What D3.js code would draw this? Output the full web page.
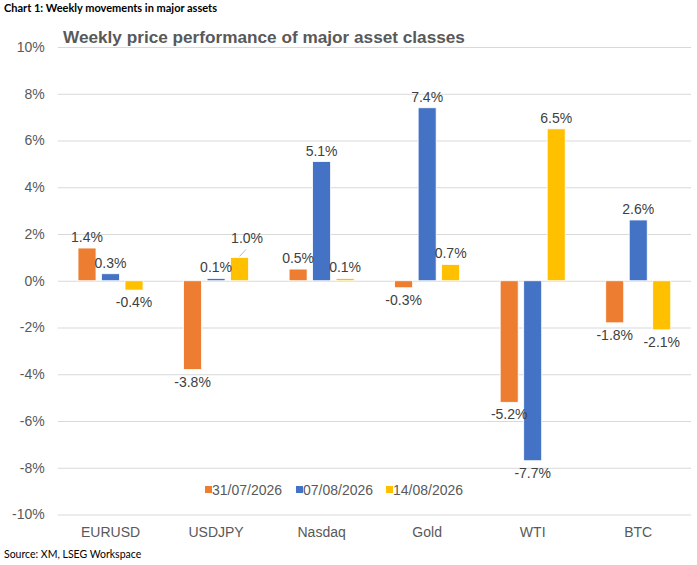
<!DOCTYPE html>
<html>
<head>
<meta charset="utf-8">
<script src="https://cdn.jsdelivr.net/npm/d3@7"></script>
<style>
  body { margin: 0; background: #fff; }
  svg { display: block; font-family: "Liberation Sans", Arial, sans-serif; }
</style>
</head>
<body>
<svg id="chart"></svg>
<script>
// Data
const categories = ["EURUSD", "USDJPY", "Nasdaq", "Gold", "WTI", "BTC"];
const seriesNames = ["31/07/2026", "07/08/2026", "14/08/2026"];
const values31Jul = [1.4, -3.8, 0.5, -0.3, -5.2, -1.8];
const values07Aug = [0.3, 0.1, 5.1, 7.4, -7.7, 2.6];
const values14Aug = [-0.4, 1.0, 0.1, 0.7, 6.5, -2.1];
const yTicks = [-10, -8, -6, -4, -2, 0, 2, 4, 6, 8, 10];

const seriesColors = ["#ED7D31", "#4472C4", "#FFC000"];

const canvas = { width: 697, height: 565 };
const plot = { left: 57.75, right: 691, top: 47, bottom: 514.5 };

const svg = d3.select("#chart")
  .attr("width", canvas.width)
  .attr("height", canvas.height);

// flatten into rows for drawing
const rows = [];
[values31Jul, values07Aug, values14Aug].forEach((vals, si) => {
  vals.forEach((v, ci) => {
    rows.push({ category: categories[ci], series: seriesNames[si], value: v });
  });
});

const xScale = d3.scaleBand()
  .domain(categories)
  .range([plot.left, plot.right])
  .padding(0);

const xInner = d3.scaleBand()
  .domain(seriesNames)
  .range([-32.5, 32.5])
  .paddingInner(0.234)
  .paddingOuter(0);

const yScale = d3.scaleLinear()
  .domain([-10, 10])
  .range([plot.bottom, plot.top]);

const colorScale = d3.scaleOrdinal().domain(seriesNames).range(seriesColors);

// header text
svg.append("text")
  .attr("x", 4)
  .attr("y", 12)
  .attr("font-family", "Lato, 'Open Sans', sans-serif")
  .attr("font-weight", "bold")
  .attr("font-size", 11)
  .attr("fill", "#000")
  .text("Chart 1: Weekly movements in major assets");

// gridlines
svg.append("g")
  .attr("transform", "translate(" + plot.left + ",0)")
  .call(d3.axisLeft(yScale).tickValues(yTicks).tickSize(-(plot.right - plot.left)).tickFormat(""))
  .call((g) => g.select(".domain").remove())
  .call((g) => g.selectAll("line").attr("stroke", "#d9d9d9").attr("stroke-width", 1));

// y tick labels
svg.append("g")
  .attr("transform", "translate(" + plot.left + ",0)")
  .call(d3.axisLeft(yScale).tickValues(yTicks).tickSize(0).tickPadding(13).tickFormat((d) => d + "%"))
  .call((g) => g.select(".domain").remove())
  .call((g) => g.selectAll("text")
    .attr("font-family", "Liberation Sans, Arial, sans-serif")
    .attr("font-size", 14)
    .attr("fill", "#595959"));

// x category labels
svg.append("g")
  .attr("transform", "translate(0," + plot.bottom + ")")
  .call(d3.axisBottom(xScale).tickSize(0).tickPadding(13))
  .call((g) => g.select(".domain").remove())
  .call((g) => g.selectAll("text")
    .attr("font-family", "Liberation Sans, Arial, sans-serif")
    .attr("font-size", 14)
    .attr("fill", "#595959"));

// title
svg.append("text")
  .attr("x", 63)
  .attr("y", 43)
  .attr("font-weight", "bold")
  .attr("font-size", 17.2)
  .attr("fill", "#595959")
  .text("Weekly price performance of major asset classes");

const barX = (d) => xScale(d.category) + xScale.bandwidth() / 2 + xInner(d.series);

// bars
svg.append("g")
  .selectAll("rect")
  .data(rows)
  .enter()
  .append("rect")
  .attr("x", barX)
  .attr("width", xInner.bandwidth())
  .attr("y", (d) => yScale(Math.max(0, d.value)))
  .attr("height", (d) => Math.abs(yScale(d.value) - yScale(0)))
  .attr("fill", (d) => colorScale(d.series))
  .attr("stroke", "#fff")
  .attr("stroke-width", 0.8);

// label nudges where the original moved a label off its bar
const labelShift = { "USDJPY|14/08/2026": [7.5, -5] };

const labels = svg.append("g");
rows.forEach((d) => {
  const key = d.category + "|" + d.series;
  const shift = labelShift[key] || [0, 0];
  const cx = barX(d) + xInner.bandwidth() / 2;
  const edge = yScale(d.value);
  const y = d.value >= 0 ? edge - 6 : edge + 17;
  if (labelShift[key]) {
    labels.append("line")
      .attr("x1", cx)
      .attr("y1", edge - 1)
      .attr("x2", cx + shift[0] - 1)
      .attr("y2", edge + shift[1] - 3)
      .attr("stroke", "#a6a6a6")
      .attr("stroke-width", 0.8);
  }
  labels.append("text")
    .attr("x", cx + shift[0])
    .attr("y", y + shift[1] - (labelShift[key] ? 3 : 0))
    .attr("text-anchor", "middle")
    .attr("font-size", 14)
    .attr("fill", "#404040")
    .text(d.value.toFixed(1) + "%");
});

// legend
const legendX = [205, 296, 386];
const legend = svg.append("g");
seriesNames.forEach((name, i) => {
  legend.append("rect")
    .attr("x", legendX[i])
    .attr("y", 486)
    .attr("width", 7)
    .attr("height", 7)
    .attr("fill", colorScale(name));
  legend.append("text")
    .attr("x", legendX[i] + 7)
    .attr("y", 495)
    .attr("font-size", 14)
    .attr("fill", "#595959")
    .text(name);
});

// source
svg.append("text")
  .attr("x", 4)
  .attr("y", 558)
  .attr("font-family", "Lato, 'Open Sans', sans-serif")
  .attr("font-size", 10.5)
  .attr("fill", "#000")
  .text("Source: XM, LSEG Workspace");
</script>
</body>
</html>
